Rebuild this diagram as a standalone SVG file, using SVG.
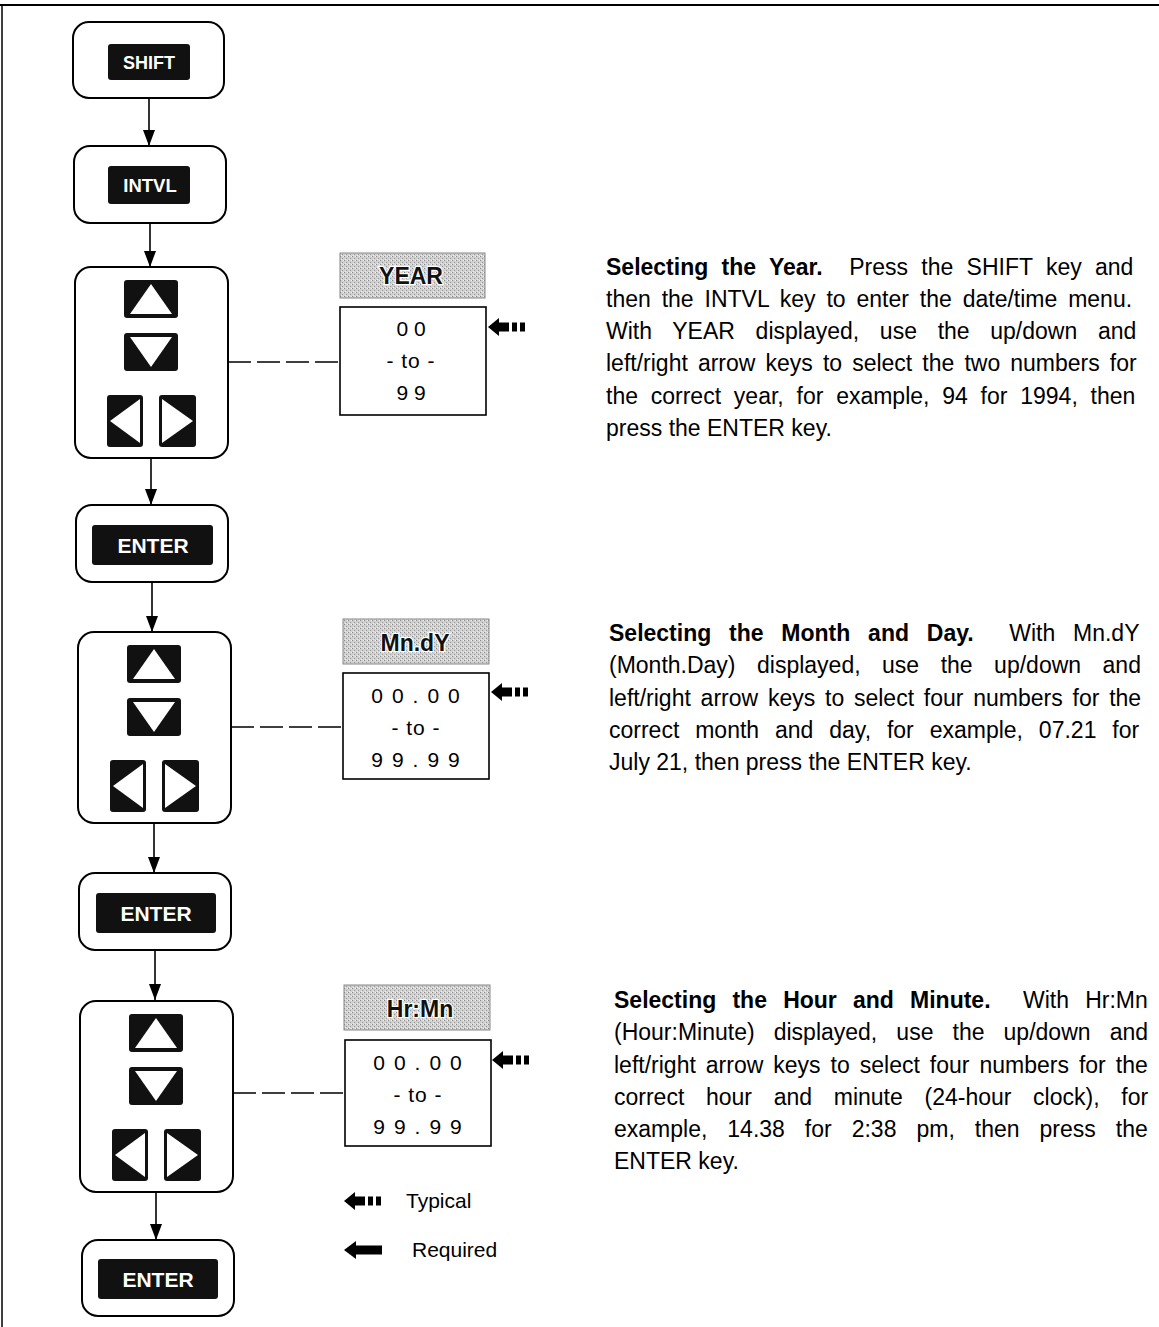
<svg xmlns="http://www.w3.org/2000/svg" xmlns:xlink="http://www.w3.org/1999/xlink" width="1159" height="1327" viewBox="0 0 1159 1327">
<style>
.box{fill:#fff;stroke:#000;stroke-width:2}
.key{fill:#111}
.keytxt{font-family:"Liberation Sans",Arial,sans-serif;font-weight:bold;fill:#fff;text-anchor:middle}
.lbl{fill:url(#stip);stroke:#888;stroke-width:1}
.lbltxt{font-family:"Liberation Sans",Arial,sans-serif;font-weight:bold;font-size:23px;fill:#111;stroke:#fff;stroke-width:2.5;paint-order:stroke;text-anchor:middle}
.disp{fill:#fff;stroke:#000;stroke-width:1.6}
.dtxt{font-family:"Liberation Sans",Arial,sans-serif;font-size:21px;fill:#000;text-anchor:middle}
.para{font-family:"Liberation Sans",Arial,sans-serif;font-size:23px;fill:#000}
.b{font-weight:bold}
.conn{stroke:#000;stroke-width:1.6;fill:none}
.dash{stroke:#000;stroke-width:1.6;fill:none;stroke-dasharray:23 6}
.leg{font-family:"Liberation Sans",Arial,sans-serif;font-size:21px;fill:#000}
</style>
<defs>
<pattern id="stip" width="4" height="4" patternUnits="userSpaceOnUse">
<rect width="4" height="4" fill="#d0d0d0"/>
<rect x="0" y="0" width="1" height="1" fill="#888"/>
<rect x="2" y="2" width="1" height="1" fill="#999"/>
<rect x="3" y="0" width="1" height="1" fill="#f0f0f0"/>
<rect x="1" y="3" width="1" height="1" fill="#f0f0f0"/>
</pattern>
<marker id="ah" markerWidth="16" markerHeight="12" refX="16" refY="6" orient="auto" markerUnits="userSpaceOnUse" viewBox="0 0 16 12">
<path d="M0,0 L16,6 L0,12 Z" fill="#000"/>
</marker>
<g id="keypad">
<rect class="box" x="0" y="0" width="153" height="191" rx="16"/>
<rect class="key" x="49" y="13" width="54" height="38" rx="3"/>
<path d="M76,17 L97,47 L55,47 Z" fill="#fff"/>
<rect class="key" x="49" y="66" width="54" height="38" rx="3"/>
<path d="M55,70 L97,70 L76,100 Z" fill="#fff"/>
<rect class="key" x="32" y="128" width="36" height="52" rx="3"/>
<path d="M35,154 L65,132 L65,176 Z" fill="#fff"/>
<rect class="key" x="84" y="128" width="37" height="52" rx="3"/>
<path d="M87,132 L118,154 L87,176 Z" fill="#fff"/>
</g>
<g id="typ">
<path d="M0,0 L11,-9 L11,9 Z" fill="#000"/>
<rect x="10" y="-4.5" width="11" height="9" fill="#000"/>
<rect x="24" y="-4.5" width="5" height="9" fill="#000"/>
<rect x="32" y="-4.5" width="5" height="9" fill="#000"/>
</g>
<g id="req">
<path d="M0,0 L12,-9 L12,9 Z" fill="#000"/>
<rect x="11" y="-4.5" width="27" height="9" fill="#000"/>
</g>
</defs>
<rect width="1159" height="1327" fill="#fff"/>
<g id="page-border">
<line x1="0" y1="5" x2="1159" y2="5" stroke="#000" stroke-width="2"/>
<line x1="2" y1="5" x2="2" y2="1327" stroke="#000" stroke-width="1.5"/>
</g>

<g id="connectors">
<line class="conn" x1="149" y1="98" x2="149" y2="146" marker-end="url(#ah)"/>
<line class="conn" x1="150" y1="223" x2="150" y2="267" marker-end="url(#ah)"/>
<line class="conn" x1="151" y1="458" x2="151" y2="505" marker-end="url(#ah)"/>
<line class="conn" x1="152" y1="582" x2="152" y2="632" marker-end="url(#ah)"/>
<line class="conn" x1="154" y1="823" x2="154" y2="873" marker-end="url(#ah)"/>
<line class="conn" x1="155" y1="950" x2="155" y2="1000" marker-end="url(#ah)"/>
<line class="conn" x1="156" y1="1192" x2="156" y2="1240" marker-end="url(#ah)"/>
<line class="dash" x1="228" y1="362" x2="340" y2="362"/>
<line class="dash" x1="231" y1="727" x2="343" y2="727"/>
<line class="dash" x1="233" y1="1093" x2="345" y2="1093"/>
</g>

<g id="shift">
<rect class="box" x="73" y="22" width="151" height="76" rx="16"/>
<rect class="key" x="108" y="44" width="82" height="36" rx="3"/>
<text class="keytxt" x="149" y="69" font-size="18">SHIFT</text>
</g>
<g id="intvl">
<rect class="box" x="74" y="146" width="152" height="77" rx="16"/>
<rect class="key" x="108" y="166" width="82" height="38" rx="3"/>
<text class="keytxt" x="150" y="192" font-size="18.5">INTVL</text>
</g>
<g id="keypad1"><use xlink:href="#keypad" href="#keypad" transform="translate(75,267)"/></g>
<g id="enter1">
<rect class="box" x="76" y="505" width="152" height="77" rx="16"/>
<rect class="key" x="92" y="525" width="121" height="40" rx="3"/>
<text class="keytxt" x="153" y="552.5" font-size="21">ENTER</text>
</g>
<g id="keypad2"><use xlink:href="#keypad" href="#keypad" transform="translate(78,632)"/></g>
<g id="enter2">
<rect class="box" x="79" y="873" width="152" height="77" rx="16"/>
<rect class="key" x="96" y="893" width="120" height="40" rx="3"/>
<text class="keytxt" x="156" y="920.5" font-size="21">ENTER</text>
</g>
<g id="keypad3"><use xlink:href="#keypad" href="#keypad" transform="translate(80,1001)"/></g>
<g id="enter3">
<rect class="box" x="82" y="1240" width="152" height="76" rx="16"/>
<rect class="key" x="98" y="1259" width="120" height="40" rx="3"/>
<text class="keytxt" x="158" y="1286.5" font-size="21">ENTER</text>
</g>

<g id="year-display">
<rect class="lbl" x="340" y="253" width="145" height="45"/>
<text class="lbltxt" x="411" y="284">YEAR</text>
<rect class="disp" x="340" y="307" width="146" height="108"/>
<text class="dtxt" x="411" y="336">0 0</text>
<text class="dtxt" x="411" y="368" letter-spacing="1">- to -</text>
<text class="dtxt" x="411" y="400">9 9</text>
<use xlink:href="#typ" href="#typ" transform="translate(488,327)"/>
</g>
<g id="mndy-display">
<rect class="lbl" x="343" y="619" width="146" height="45"/>
<text class="lbltxt" x="415" y="651">Mn.dY</text>
<rect class="disp" x="343" y="673" width="146" height="106"/>
<text class="dtxt" x="420" y="703" letter-spacing="9">00.00</text>
<text class="dtxt" x="416" y="735" letter-spacing="1">- to -</text>
<text class="dtxt" x="420" y="767" letter-spacing="9">99.99</text>
<use xlink:href="#typ" href="#typ" transform="translate(491,692)"/>
</g>
<g id="hrmn-display">
<rect class="lbl" x="344" y="985" width="146" height="45"/>
<text class="lbltxt" x="420" y="1017">Hr:Mn</text>
<rect class="disp" x="345" y="1040" width="146" height="106"/>
<text class="dtxt" x="422" y="1070" letter-spacing="9">00.00</text>
<text class="dtxt" x="418" y="1102" letter-spacing="1">- to -</text>
<text class="dtxt" x="422" y="1134" letter-spacing="9">99.99</text>
<use xlink:href="#typ" href="#typ" transform="translate(492,1060)"/>
</g>

<g id="legend">
<use xlink:href="#typ" href="#typ" transform="translate(344,1201)"/>
<text class="leg" x="406" y="1208">Typical</text>
<use xlink:href="#req" href="#req" transform="translate(344,1250)"/>
<text class="leg" x="412" y="1257">Required</text>
</g>

<g id="text-year">
<text class="para" x="606" y="275" word-spacing="6.9" xml:space="preserve"><tspan class="b">Selecting the Year.</tspan>  Press the SHIFT key and</text>
<text class="para" x="606" y="307" word-spacing="4.5">then the INTVL key to enter the date/time menu.</text>
<text class="para" x="606" y="339" word-spacing="14.3">With YEAR displayed, use the up/down and</text>
<text class="para" x="606" y="371" word-spacing="3.7">left/right arrow keys to select the two numbers for</text>
<text class="para" x="606" y="404" word-spacing="6.4">the correct year, for example, 94 for 1994, then</text>
<text class="para" x="606" y="436">press the ENTER key.</text>
</g>
<g id="text-monthday">
<text class="para" x="609" y="641" word-spacing="11.4" xml:space="preserve"><tspan class="b">Selecting the Month and Day.</tspan>  With Mn.dY</text>
<text class="para" x="609" y="673" word-spacing="15.1">(Month.Day) displayed, use the up/down and</text>
<text class="para" x="609" y="706" word-spacing="3.4">left/right arrow keys to select four numbers for the</text>
<text class="para" x="609" y="738" word-spacing="9.5">correct month and day, for example, 07.21 for</text>
<text class="para" x="609" y="770">July 21, then press the ENTER key.</text>
</g>
<g id="text-hourmin">
<text class="para" x="614" y="1008" word-spacing="9.8" xml:space="preserve"><tspan class="b">Selecting the Hour and Minute.</tspan>  With Hr:Mn</text>
<text class="para" x="614" y="1040" word-spacing="12.7">(Hour:Minute) displayed, use the up/down and</text>
<text class="para" x="614" y="1073" word-spacing="3.6">left/right arrow keys to select four numbers for the</text>
<text class="para" x="614" y="1105" word-spacing="15.3">correct hour and minute (24-hour clock), for</text>
<text class="para" x="614" y="1137" word-spacing="13.6">example, 14.38 for 2:38 pm, then press the</text>
<text class="para" x="614" y="1169">ENTER key.</text>
</g>
</svg>
